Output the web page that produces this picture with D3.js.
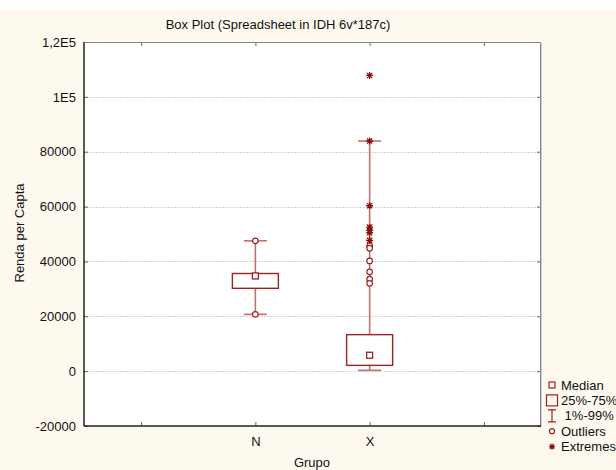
<!DOCTYPE html>
<html><head><meta charset="utf-8">
<script src="https://cdn.jsdelivr.net/npm/d3@7"></script>
<style>
body{margin:0;background:#fff;}
svg text{font-family:"Liberation Sans",Arial,sans-serif;fill:#111;}
</style></head>
<body><svg id="c" width="616" height="470"></svg>
<script>
const categories = ["N", "X"];
const catPos = [1, 2];
const medians = [34700, 5800];
const q1 = [30200, 2100];
const q3 = [35600, 13300];
const p1 = [20700, 300];
const p99 = [47500, 83900];
const outliers = [[47500, 20700], [45700, 44800, 40200, 36200, 33500, 32000]];
const extremes = [[], [107800, 83900, 60300, 52500, 51300, 50500, 47700]];
const yTicks = [-20000, 0, 20000, 40000, 60000, 80000, 100000, 120000];
const yTickLabels = ["-20000", "0", "20000", "40000", "60000", "80000", "1E5", "1,2E5"];
const xTicks = [0, 1, 2, 3];
const xTickLabels = ["", "N", "X", ""];
const legendItems = ["Median", "25%-75%", " 1%-99%", "Outliers", "Extremes"];

const svg = d3.select("#c");
const L = 84, T = 42, R = 541, B = 426;
const dark = "#9a2424", light = "#c07070", mark = "#8a1010";

svg.append("rect").attr("x",0).attr("y",9).attr("width",616).attr("height",461).attr("fill","#fef9ef");
svg.append("rect").attr("x",L).attr("y",T).attr("width",R-L).attr("height",B-T).attr("fill","#fff");

const y = d3.scaleLinear().domain([-20000,120000]).range([B,T]);
const x = d3.scaleLinear().domain([-0.5,3.5]).range([L,R]);

// grid
svg.append("g").selectAll("line").data(yTicks.filter(v=>v>-20000 && v<120000)).join("line")
  .attr("x1",L).attr("x2",R).attr("y1",d=>Math.round(y(d))+0.5).attr("y2",d=>Math.round(y(d))+0.5)
  .attr("stroke","#d2d2d2").attr("stroke-dasharray","2,1");

// axes
const yAxis = d3.axisLeft(y).tickValues(yTicks).tickFormat((d,i)=>yTickLabels[i]).tickSize(-4).tickPadding(8);
const gy = svg.append("g").attr("transform",`translate(${L},0)`).call(yAxis);
const xAxis = d3.axisBottom(x).tickValues(xTicks).tickFormat((d,i)=>xTickLabels[i]).tickSize(-4).tickPadding(8);
const gx = svg.append("g").attr("transform",`translate(0,${B})`).call(xAxis);
const gt = svg.append("g").attr("transform",`translate(0,${T})`).call(d3.axisTop(x).tickValues(xTicks).tickFormat("").tickSize(-4));
const gr = svg.append("g").attr("transform",`translate(${R},0)`).call(d3.axisRight(y).tickValues(yTicks).tickFormat("").tickSize(-4));
[gy,gx,gt,gr].forEach(g=>{g.select(".domain").remove(); g.selectAll(".tick line").attr("stroke","#666");
  g.selectAll("text").attr("font-size","13px").attr("fill","#111").attr("font-family","Liberation Sans, Arial, sans-serif");});
gx.selectAll("text").attr("dy","0.9em");
// frame
svg.append("line").attr("x1",L).attr("x2",R).attr("y1",T+0.5).attr("y2",T+0.5).attr("stroke","#888");
svg.append("line").attr("x1",R-0.5).attr("x2",R-0.5).attr("y1",T).attr("y2",B).attr("stroke","#888");
svg.append("line").attr("x1",R+0.5).attr("x2",R+0.5).attr("y1",T+1).attr("y2",B).attr("stroke","#ccc");
svg.append("line").attr("x1",L).attr("x2",L).attr("y1",T).attr("y2",B).attr("stroke","#222").attr("stroke-width",1.5);
svg.append("line").attr("x1",L).attr("x2",R).attr("y1",B).attr("y2",B).attr("stroke","#222").attr("stroke-width",1.5);

// boxes
const boxW = 46, capW = 23;
categories.forEach((c,i)=>{
  const cx = x(catPos[i]);
  const g = svg.append("g");
  g.append("line").attr("x1",cx).attr("x2",cx).attr("y1",y(p99[i])).attr("y2",y(q3[i])).attr("stroke",light).attr("stroke-width",1.6);
  g.append("line").attr("x1",cx).attr("x2",cx).attr("y1",y(q1[i])).attr("y2",y(p1[i])).attr("stroke",light).attr("stroke-width",1.6);
  g.append("line").attr("x1",cx-capW/2).attr("x2",cx+capW/2).attr("y1",y(p99[i])).attr("y2",y(p99[i])).attr("stroke",light).attr("stroke-width",1.6);
  g.append("line").attr("x1",cx-capW/2).attr("x2",cx+capW/2).attr("y1",y(p1[i])).attr("y2",y(p1[i])).attr("stroke",light).attr("stroke-width",1.6);
  g.append("rect").attr("x",cx-boxW/2).attr("y",y(q3[i])).attr("width",boxW).attr("height",y(q1[i])-y(q3[i]))
    .attr("fill","none").attr("stroke",dark).attr("stroke-width",1.4);
  g.append("rect").attr("x",cx-3).attr("y",y(medians[i])-3).attr("width",6).attr("height",6)
    .attr("fill","#fff").attr("stroke",dark).attr("stroke-width",1.3);
  g.selectAll("circle").data(outliers[i]).join("circle").attr("cx",cx).attr("cy",d=>y(d)).attr("r",2.8)
    .attr("fill","#fff").attr("stroke",dark).attr("stroke-width",1.2);
  g.selectAll("path.ext").data(extremes[i]).join("path").attr("class","ext")
    .attr("transform",d=>`translate(${cx},${y(d)})`)
    .attr("d",d=>{const s=3.5; return `M${-s},0H${s}M0,${-s}V${s}M${-s*0.75},${-s*0.75}L${s*0.75},${s*0.75}M${-s*0.75},${s*0.75}L${s*0.75},${-s*0.75}`;})
    .attr("stroke",mark).attr("stroke-width",1.3).attr("fill","none");
});

// titles
svg.append("text").attr("x",278).attr("y",29).attr("text-anchor","middle").attr("font-size","13px").text("Box Plot (Spreadsheet in IDH 6v*187c)");
svg.append("text").attr("x",312).attr("y",467).attr("text-anchor","middle").attr("font-size","13px").text("Grupo");
svg.append("text").attr("transform","translate(24,233) rotate(-90)").attr("text-anchor","middle").attr("font-size","13px").text("Renda per Capta");

// legend
const lg = svg.append("g");
const ly0 = 385, ldy = 15.4, lx = 552;
legendItems.forEach((t,i)=>{
  const yy = ly0 + i*ldy;
  lg.append("text").attr("x",561).attr("y",yy+4.5).attr("font-size","13px").attr("xml:space","preserve").style("white-space","pre").text(t);
  if(i===0) lg.append("rect").attr("x",lx-3).attr("y",yy-3).attr("width",6).attr("height",6).attr("fill","none").attr("stroke",dark).attr("stroke-width",1.2);
  if(i===1) lg.append("rect").attr("x",lx-5.5).attr("y",yy-5.5).attr("width",11).attr("height",11).attr("fill","none").attr("stroke",dark).attr("stroke-width",1.2);
  if(i===2){ lg.append("path").attr("d",`M${lx-4},${yy-6}H${lx+4}M${lx},${yy-6}V${yy+6}M${lx-4},${yy+6}H${lx+4}`).attr("stroke",dark).attr("fill","none").attr("stroke-width",1.2);}
  if(i===3) lg.append("circle").attr("cx",lx).attr("cy",yy).attr("r",2.5).attr("fill","none").attr("stroke",dark).attr("stroke-width",1.2);
  if(i===4){ const s=3; lg.append("path").attr("d",`M${lx-s},${yy}H${lx+s}M${lx},${yy-s}V${yy+s}M${lx-s*0.75},${yy-s*0.75}L${lx+s*0.75},${yy+s*0.75}M${lx-s*0.75},${yy+s*0.75}L${lx+s*0.75},${yy-s*0.75}`).attr("stroke",mark).attr("fill","none").attr("stroke-width",1.2);}
});
</script></body></html>
